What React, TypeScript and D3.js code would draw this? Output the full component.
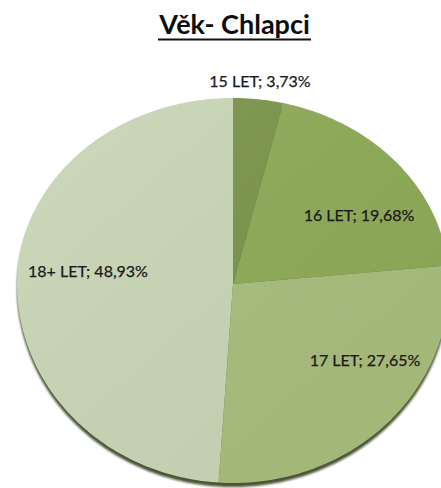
import React from "react";
import * as d3 from "d3";

const title = "Věk- Chlapci";
const categories = ["15 LET", "16 LET", "17 LET", "18+ LET"];
const values = [3.73, 19.68, 27.65, 48.93];
const valueLabels = ["3,73%", "19,68%", "27,65%", "48,93%"];
const colors = ["#7a9449", "#8daa56", "#a8be7c", "#c9d6b6"];

// layout
const W = 441, H = 488;
const cx = 233, cy = 284;
const rx = 216, ryTop = 186, ryBot = 199;
const labelPos: [number, number][] = [
  [260, 87],
  [359, 221],
  [365, 366],
  [88, 277],
];

function proj(a: number, f = 1): [number, number] {
  const s = Math.sin(a), c = Math.cos(a);
  const ry = c > 0 ? ryTop : ryBot;
  return [cx + rx * f * s, cy - ry * f * c];
}

function slicePath(a0: number, a1: number, dy = 0): string {
  const n = Math.max(4, Math.ceil(((a1 - a0) / (Math.PI * 2)) * 360));
  const pts: [number, number][] = [[cx, cy + dy]];
  for (let i = 0; i <= n; i++) {
    const a = a0 + ((a1 - a0) * i) / n;
    const [x, y] = proj(a);
    pts.push([x, y + dy]);
  }
  return (d3.line()(pts) || "") + "Z";
}

export default function App() {
  const arcs = d3.pie<number>().sort(null)(values);
  const full = slicePath(0, Math.PI * 2, 0);
  const shadow = slicePath(0, Math.PI * 2, 4);
  return (
    <svg width={W} height={H} style={{ position: "absolute", left: 0, top: 0, display: "block" }}>
      <defs>
        <linearGradient id="shade" x1="0" y1="0" x2="1" y2="1">
          <stop offset="0" stopColor="#ffffff" stopOpacity={0.08} />
          <stop offset="1" stopColor="#000000" stopOpacity={0.04} />
        </linearGradient>
        <filter id="blur" x="-10%" y="-10%" width="120%" height="120%">
          <feGaussianBlur stdDeviation="0.8" />
        </filter>
      </defs>
      <rect width={W} height={H} fill="#ffffff" />
      <text x={234.5} y={34} textAnchor="middle" fontFamily="Lato, 'Open Sans', sans-serif" fontWeight="bold" fontSize={27} fill="#0d0d0d">
        {title}
      </text>
      <line x1={158} x2={311} y1={39.5} y2={39.5} stroke="#111" strokeWidth={2} />
      <path d={shadow} fill="#4a5436" filter="url(#blur)" />
      {arcs.map((a, i) => (
        <path key={i} d={slicePath(a.startAngle, a.endAngle)} fill={colors[i]} />
      ))}
      <path d={full} fill="url(#shade)" />
      {arcs.map((a, i) => (
        <text key={"l" + i} x={labelPos[i][0]} y={labelPos[i][1]} textAnchor="middle" fontFamily="Lato, 'Open Sans', sans-serif" fontSize={16} fill="#1a1a1a" stroke="#1a1a1a" strokeWidth={0.25}>
          {categories[i] + "; " + valueLabels[i]}
        </text>
      ))}
    </svg>
  );
}
